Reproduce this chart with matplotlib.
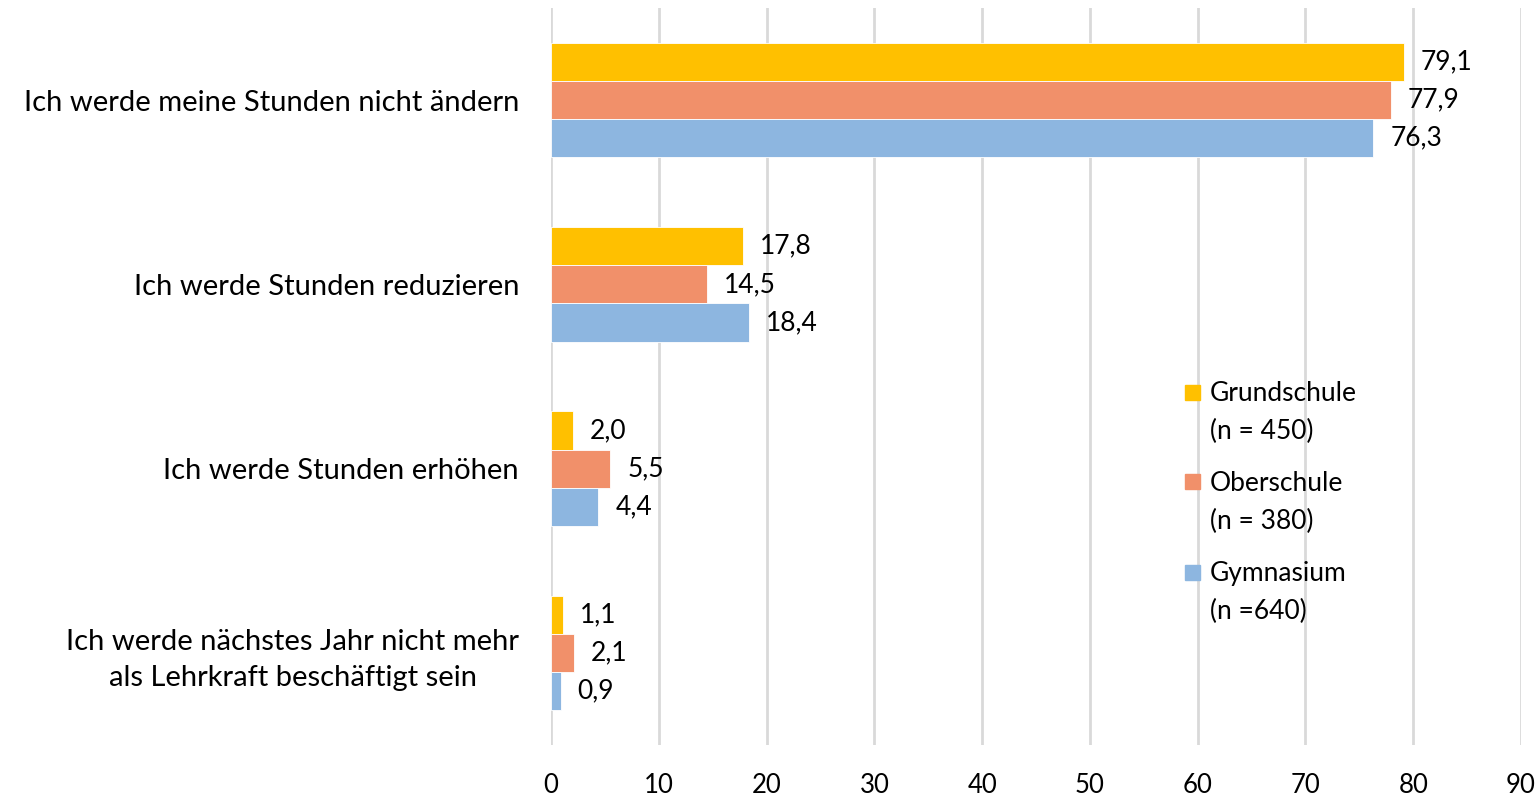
import numpy as np
import matplotlib.pyplot as plt
from matplotlib.patches import Rectangle

plt.rcParams['font.family'] = ['Lato', 'DejaVu Sans']

# Antworten auf die Frage nach der Stundenplanung (Anteile in %)
kategorien = [
    "Ich werde meine Stunden nicht ändern",
    "Ich werde Stunden reduzieren",
    "Ich werde Stunden erhöhen",
    "Ich werde nächstes Jahr nicht mehr\nals Lehrkraft beschäftigt sein",
]
grundschule = [79.1, 17.8, 2.0, 1.1]
oberschule = [77.9, 14.5, 5.5, 2.1]
gymnasium = [76.3, 18.4, 4.4, 0.9]

serien = [
    ("Grundschule\n(n = 450)", grundschule, "#FFC000"),
    ("Oberschule\n(n = 380)", oberschule, "#F1906A"),
    ("Gymnasium\n(n =640)", gymnasium, "#8DB6E0"),
]

W, H = 1540, 796
fig = plt.figure(figsize=(W / 100, H / 100), dpi=100)
ax = fig.add_axes([0.3578, 0.064, 0.6299, 0.926])

y = np.arange(len(kategorien))
h = 0.207
for k, (name, werte, farbe) in enumerate(serien):
    pos = y + (k - 1) * h
    ax.barh(pos, werte, height=h, color=farbe,
            edgecolor="white", linewidth=0.6, zorder=3)
    for p, v in zip(pos, werte):
        ax.annotate(f"{v:.1f}".replace(".", ","), (v, p), xytext=(17, 0),
                    textcoords="offset pixels",
                    va="center", ha="left", fontsize=19)

ax.set_xlim(0, 90)
ax.set_ylim(len(kategorien) - 0.5, -0.5)
ax.set_xticks(np.arange(0, 91, 10))
ax.set_yticks(y)
ax.set_yticklabels(kategorien, fontsize=21, multialignment="center",
                   linespacing=1.45)
ax.tick_params(axis="x", length=0, labelsize=18.5, pad=20)
ax.tick_params(axis="y", length=0, pad=23)
ax.grid(axis="x", color="#D9D9D9", linewidth=2, zorder=0)
for s in ax.spines.values():
    s.set_visible(False)

# Legende von Hand: Quadrat neben der ersten Textzeile
for k, (name, werte, farbe) in enumerate(serien):
    ytop = 392 + 90 * k
    fig.patches.append(Rectangle(((1185) / W, 1 - (ytop + 7.5) / H),
                                 15 / W, 15 / H, color=farbe,
                                 transform=fig.transFigure, figure=fig))
    fig.text(1210 / W, 1 - (ytop - 11) / H, name, fontsize=19,
             va="top", ha="left", linespacing=1.65)

fig.savefig("out.png", dpi=100)
